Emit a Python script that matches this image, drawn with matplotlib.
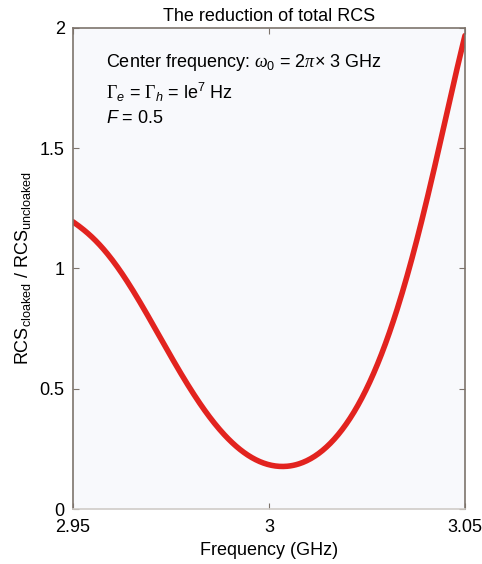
import numpy as np
import matplotlib.pyplot as plt

plt.rcParams['font.family'] = ['Liberation Sans', 'DejaVu Sans']
plt.rcParams['mathtext.fontset'] = 'custom'
plt.rcParams['mathtext.rm'] = 'Liberation Sans'
plt.rcParams['mathtext.it'] = 'Liberation Sans:italic'
plt.rcParams['mathtext.sf'] = 'Liberation Serif:italic'
plt.rcParams['mathtext.tt'] = 'Liberation Serif'

# RCS ratio
freq = [2.9500, 2.9551, 2.9594, 2.9637, 2.9679, 2.9722, 2.9765, 2.9807,
        2.9850, 2.9892, 2.9935, 2.9978, 3.0020, 3.0063, 3.0106, 3.0148,
        3.0191, 3.0234, 3.0276, 3.0319, 3.0362, 3.0404, 3.0429, 3.0465, 3.0500]
ratio = [1.192, 1.129, 1.053, 0.949, 0.831, 0.706, 0.594, 0.483,
         0.386, 0.303, 0.240, 0.192, 0.169, 0.177, 0.206, 0.261,
         0.344, 0.463, 0.608, 0.789, 1.011, 1.261, 1.500, 1.740, 1.958]

xticks = [2.95, 3.0, 3.05]
xticklabels = ['2.95', '3', '3.05']
yticks = [0, 0.5, 1, 1.5, 2]
yticklabels = ['0', '0.5', '1', '1.5', '2']

fs = 13

fig = plt.figure(figsize=(4.82, 5.64), dpi=100)
ax = fig.add_axes([0.1515, 0.0975, 0.8132, 0.8529])
ax.set_facecolor('#f8f9fc')

# smooth curve through the read points (centred fit for stability)
f = np.array(freq)
u = (f - 3.0) / 0.05
coef = np.polyfit(u, ratio, 7)
xs = np.linspace(f[0], f[-1], 400)
ax.plot(xs, np.polyval(coef, (xs - 3.0) / 0.05), color='#e2231f', lw=4,
        solid_capstyle='round')

ax.set_xlim(2.95, 3.05)
ax.set_ylim(0, 2)
ax.set_xticks(xticks)
ax.set_xticklabels(xticklabels)
ax.set_yticks(yticks)
ax.set_yticklabels(yticklabels)
ax.tick_params(direction='in', top=True, right=True, labelsize=fs,
               length=4, color='#7d746c')
ax.tick_params(axis='x', pad=7.5)
ax.tick_params(axis='y', pad=6)

for s in ['left', 'right', 'top']:
    ax.spines[s].set_color('#7d746c')
    ax.spines[s].set_linewidth(1.2)
ax.spines['bottom'].set_color('#d0ccc8')
ax.spines['bottom'].set_linewidth(1.2)

ax.set_title('The reduction of total RCS', fontsize=fs, pad=5)
ax.set_xlabel('Frequency (GHz)', fontsize=fs, labelpad=4)
ax.set_ylabel(r'RCS$_{\mathrm{cloaked}}$ / RCS$_{\mathrm{uncloaked}}$', fontsize=fs, labelpad=5)

ax.text(0.084, 0.929, r'Center frequency: $\mathsf{\omega}_0$ = 2$\mathsf{\pi}$$\times$ 3 GHz',
        transform=ax.transAxes, fontsize=fs, va='center')
ax.text(0.084, 0.867, r'$\mathtt{\Gamma}_{e}$ = $\mathtt{\Gamma}_{h}$ = le$^7$ Hz',
        transform=ax.transAxes, fontsize=fs, va='center')
ax.text(0.084, 0.811, r'$F$ = 0.5',
        transform=ax.transAxes, fontsize=fs, va='center')

fig.savefig('out.png', dpi=100)
